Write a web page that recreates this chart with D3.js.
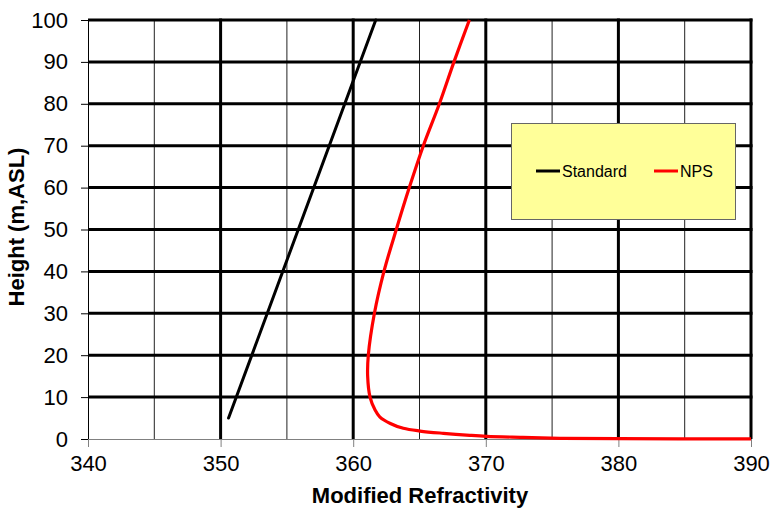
<!DOCTYPE html>
<html>
<head>
<meta charset="utf-8">
<script src="https://cdn.jsdelivr.net/npm/d3@7"></script>
<style>
  html, body { margin: 0; padding: 0; background: #fff; }
  svg { display: block; font-family: Arial, "Liberation Sans", sans-serif; }
</style>
</head>
<body>
<svg id="chart" width="772" height="510"></svg>
<script>
// Refractivity profiles: height above sea level (m) vs modified refractivity (M units)
const seriesNames = ["Standard", "NPS"];
const seriesColors = ["#000000", "#ff0000"];

// Standard atmosphere profile
const standardHeight = [5, 100];
const standardM = [350.6, 361.7];

// NPS model profile (evaporation-duct shape near the surface)
const npsHeight = [0.02, 0.07, 0.17, 0.4, 0.64, 0.88, 1.36, 1.9, 2.55, 3.7, 5.3, 6.9, 10, 15, 20, 30, 40, 50, 60, 70, 80, 90, 100];
const npsM = [390, 380, 375.6, 372.6, 370.07, 368.8, 366.8, 365.04, 363.78, 362.8, 362.0, 361.65, 361.27, 361.09, 361.14, 361.6, 362.32, 363.25, 364.23, 365.29, 366.5, 367.6, 368.76];

// Axis ticks
const xTicks = [340, 350, 360, 370, 380, 390];
const xMinorTicks = [345, 355, 365, 375, 385];
const yTicks = [0, 10, 20, 30, 40, 50, 60, 70, 80, 90, 100];

const xTitle = "Modified Refractivity";
const yTitle = "Height (m,ASL)";

const svg = d3.select("#chart");
const plot = { left: 88, right: 751, top: 20, bottom: 439 };

const x = d3.scaleLinear().domain([340, 390]).range([plot.left, plot.right]);
const y = d3.scaleLinear().domain([0, 100]).range([plot.bottom, plot.top]);

// Minor vertical gridlines
svg.append("g").selectAll("line").data(xMinorTicks).join("line")
  .attr("x1", d => x(d)).attr("x2", d => x(d))
  .attr("y1", plot.top).attr("y2", plot.bottom)
  .attr("stroke", "#222").attr("stroke-width", 1);

// Major vertical gridlines
svg.append("g").selectAll("line").data(xTicks.slice(1)).join("line")
  .attr("x1", d => x(d)).attr("x2", d => x(d))
  .attr("y1", plot.top - 1.5).attr("y2", plot.bottom)
  .attr("stroke", "#000").attr("stroke-width", 3);

// Major horizontal gridlines
svg.append("g").selectAll("line").data(yTicks.slice(1)).join("line")
  .attr("x1", plot.left).attr("x2", plot.right + 1.5)
  .attr("y1", d => y(d)).attr("y2", d => y(d))
  .attr("stroke", "#000").attr("stroke-width", 3);

// Y axis
const yAxis = d3.axisLeft(y).tickValues(yTicks).tickSize(7).tickPadding(13).tickSizeOuter(0);
const gy = svg.append("g").attr("transform", `translate(${plot.left},0)`).call(yAxis);
gy.select(".domain").attr("stroke", "#000").attr("stroke-width", 1);
gy.selectAll(".tick line").attr("stroke", "#000");
gy.selectAll(".tick text")
  .attr("fill", "#000").style("font-size", "22px")
  .style("font-family", "Arial, 'Liberation Sans', sans-serif");

// X axis
const xAxis = d3.axisBottom(x).tickValues(xTicks).tickSize(8).tickPadding(8).tickSizeOuter(0);
const gx = svg.append("g").attr("transform", `translate(0,${plot.bottom})`).call(xAxis);
gx.select(".domain").attr("stroke", "#808080").attr("stroke-width", 1);
gx.selectAll(".tick line").attr("stroke", "#808080");
gx.selectAll(".tick text")
  .attr("fill", "#000").style("font-size", "22px")
  .style("font-family", "Arial, 'Liberation Sans', sans-serif");

// Axis titles
svg.append("text")
  .attr("x", 420).attr("y", 503)
  .attr("text-anchor", "middle")
  .style("font-size", "22px").style("font-weight", "bold")
  .text(xTitle);

svg.append("text")
  .attr("transform", "translate(24,227) rotate(-90)")
  .attr("text-anchor", "middle")
  .style("font-size", "22px").style("font-weight", "bold")
  .text(yTitle);

// Profiles
const standardData = standardHeight.map((h, i) => ({ h, m: standardM[i] }));
const npsData = npsHeight.map((h, i) => ({ h, m: npsM[i] }));

svg.append("path")
  .datum(standardData)
  .attr("d", d3.line().x(d => x(d.m)).y(d => y(d.h)))
  .attr("fill", "none")
  .attr("stroke", seriesColors[0])
  .attr("stroke-width", 3)
  .attr("stroke-linecap", "round");

svg.append("path")
  .datum(npsData)
  .attr("d", d3.line().x(d => x(d.m)).y(d => y(d.h)).curve(d3.curveCatmullRom.alpha(0.5)))
  .attr("fill", "none")
  .attr("stroke", seriesColors[1])
  .attr("stroke-width", 3.2)
  .attr("stroke-linecap", "butt");

// Legend
const legend = svg.append("g").attr("transform", "translate(511,123)");
legend.append("rect")
  .attr("x", 0.5).attr("y", 0.5)
  .attr("width", 224).attr("height", 96)
  .attr("fill", "#ffff99")
  .attr("stroke", "#666").attr("stroke-width", 1);

const legendX = [25, 143];
seriesNames.forEach((name, i) => {
  const g = legend.append("g").attr("transform", `translate(${legendX[i]},48)`);
  g.append("line")
    .attr("x1", 0).attr("x2", 24).attr("y1", 0).attr("y2", 0)
    .attr("stroke", seriesColors[i]).attr("stroke-width", 3);
  g.append("text")
    .attr("x", 26).attr("y", 6)
    .style("font-size", "16px")
    .attr("fill", "#000")
    .text(name);
});
</script>
</body>
</html>
